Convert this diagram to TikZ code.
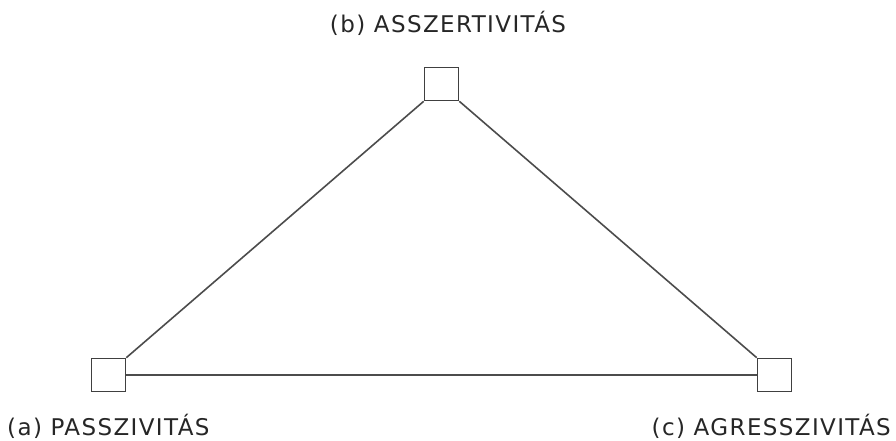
\documentclass[tikz,border=0pt]{standalone}
\usepackage{fontspec}
\setmainfont[LetterSpace=6]{DejaVu Sans}
\begin{document}
\begin{tikzpicture}[x=1pt,y=1pt,
  vbox/.style={draw=black!75,line width=1.6pt,fill=white,minimum width=34pt,minimum height=33pt,inner sep=0pt},
  edge/.style={draw=black!70,line width=1.6pt},
  lbl/.style={font=\fontsize{23}{27}\selectfont,text=black!85,inner sep=0pt}]
\useasboundingbox (0,0) rectangle (896,441);
\node[vbox] (b) at (441.5,357) {};
\node[vbox] (a) at (108.5,66) {};
\node[vbox] (c) at (774.5,66) {};
\draw[edge] (b.south west) -- (a.north east);
\draw[edge] (b.south east) -- (c.north west);
\draw[edge] (a.east) -- (c.west);
\node[lbl,anchor=base] (lb) at (448,408) {(b) ASSZERTIVITÁS};
\node[lbl,anchor=base west] (la) at (7,5) {(a) PASSZIVITÁS};
\node[lbl,anchor=base east] (lc) at (891,5) {(c) AGRESSZIVITÁS};
\end{tikzpicture}
\end{document}
